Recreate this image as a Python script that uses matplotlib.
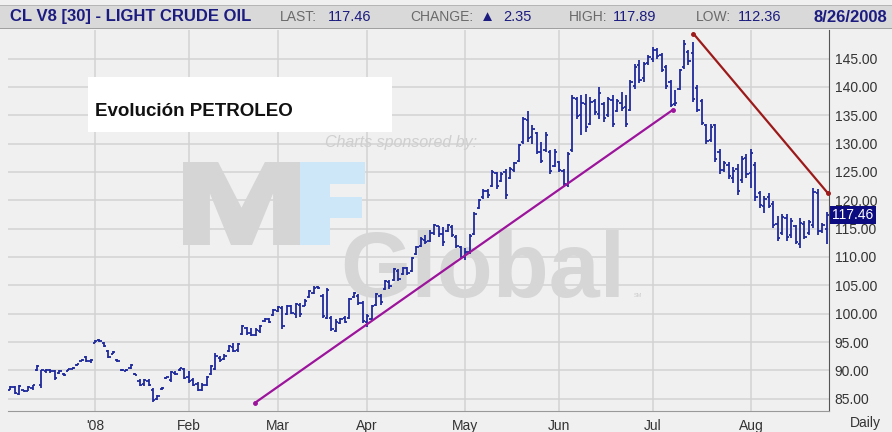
import matplotlib
matplotlib.use("Agg")
import matplotlib.pyplot as plt
import matplotlib.transforms as mtransforms
from matplotlib.patches import Polygon, Rectangle
import numpy as np
import pandas as pd

plt.rcParams['font.family'] = ['Liberation Sans', 'DejaVu Sans']

# trading days shown on the chart
start_date = "2007-12-04"
end_date = "2008-08-26"
holidays = ["2007-12-25", "2008-01-01", "2008-01-21", "2008-02-18",
            "2008-03-21", "2008-05-26", "2008-07-04"]

opens = [
    86.6, 87.0, 85.9, 86.5, 86.4, 86.8, 90.0, 87.5, 89.9, 90.0,
    89.8, 89.5, 89.4, 89.9, 90.3, 90.9, 91.7, 92.3, 91.6, 94.9,
    95.4, 94.9, 93.4, 92.9, 91.8, 90.1, 89.9, 90.4, 89.4, 88.2,
    87.6, 88.1, 86.6, 85.0, 86.7, 88.6, 88.3, 89.6, 90.0, 90.3,
    88.9, 88.3, 87.6, 86.5, 87.5, 89.4, 90.3, 92.2, 92.0, 93.4,
    94.2, 93.6, 96.4, 97.5, 96.5, 96.3, 96.9, 98.7, 99.0, 99.8,
    100.5, 101.0, 99.9, 101.3, 100.0, 101.5, 101.4, 103.0, 103.7, 104.7,
    103.2, 99.3, 99.2, 97.0, 98.4, 99.2, 99.2, 103.0, 103.2, 101.8,
    98.5, 99.0, 101.5, 103.2, 104.4, 105.6, 105.9, 107.6, 107.0, 108.0,
    107.6, 110.6, 112.0, 113.0, 112.8, 114.2, 115.4, 114.0, 114.6, 115.3,
    113.6, 111.8, 110.0, 110.9, 114.0, 118.7, 120.5, 121.6, 122.6, 124.8,
    123.4, 124.9, 124.0, 125.3, 127.0, 130.2, 134.2, 131.2, 131.8, 128.5,
    128.8, 128.5, 126.1, 126.8, 125.2, 122.7, 128.8, 137.8, 135.0, 137.0,
    133.5, 137.5, 135.3, 137.0, 135.0, 137.6, 135.8, 137.2, 136.5, 136.0,
    140.2, 143.8, 141.5, 144.2, 145.0, 146.5, 145.6, 143.5, 140.8, 137.0,
    139.6, 143.5, 146.2, 146.0, 139.8, 137.5, 133.2, 130.6, 133.2, 128.5,
    125.4, 126.3, 124.0, 125.5, 123.5, 127.5, 124.8, 126.2, 121.2, 119.0,
    120.5, 119.4, 115.8, 114.2, 116.8, 113.8, 115.5, 112.3, 115.8, 114.2,
    115.6, 121.3, 114.6, 115.0,
]
highs = [
    87.2, 87.3, 87.5, 86.6, 87.2, 87.5, 91.0, 90.1, 90.2, 90.2,
    90.1, 90.1, 89.5, 90.3, 90.6, 91.2, 92.0, 92.5, 92.0, 95.3,
    95.5, 95.0, 93.6, 93.4, 92.0, 90.3, 90.2, 91.2, 89.5, 88.4,
    88.5, 88.4, 86.9, 85.6, 87.0, 88.9, 89.9, 89.8, 90.5, 90.5,
    89.9, 88.6, 88.0, 87.7, 89.0, 91.0, 93.0, 92.5, 92.8, 94.5,
    94.8, 94.8, 98.0, 97.7, 97.4, 97.4, 98.0, 99.2, 99.3, 100.8,
    101.3, 101.3, 101.6, 101.6, 101.9, 101.8, 102.5, 104.2, 104.8, 104.8,
    103.4, 104.5, 99.5, 99.0, 99.3, 99.5, 102.8, 103.9, 103.4, 102.2,
    99.9, 101.6, 103.6, 103.5, 106.0, 105.9, 108.0, 107.9, 108.3, 108.3,
    110.0, 112.0, 113.5, 113.8, 114.7, 115.9, 115.5, 115.3, 115.9, 115.6,
    113.8, 112.0, 111.5, 114.0, 118.0, 120.3, 122.0, 121.9, 125.3, 125.0,
    125.0, 125.6, 125.9, 126.8, 130.0, 134.7, 135.7, 133.2, 132.0, 130.3,
    132.0, 128.8, 129.1, 127.0, 125.6, 128.5, 138.5, 138.2, 138.5, 138.8,
    138.2, 137.9, 140.0, 137.4, 138.2, 138.5, 137.9, 139.1, 138.5, 141.2,
    144.1, 144.7, 144.4, 145.6, 147.0, 146.8, 145.9, 143.8, 141.2, 139.4,
    143.2, 148.3, 146.5, 148.0, 140.3, 137.9, 133.5, 133.5, 133.5, 129.0,
    127.0, 126.7, 125.8, 126.4, 127.8, 128.1, 129.0, 126.7, 121.6, 120.7,
    121.3, 119.8, 117.2, 117.5, 117.5, 116.9, 115.7, 116.9, 116.3, 116.6,
    122.2, 121.9, 116.0, 117.89,
]
lows = [
    86.5, 85.8, 85.7, 86.1, 86.3, 86.6, 89.8, 86.8, 89.6, 89.6,
    88.3, 89.3, 89.0, 89.8, 90.2, 90.8, 91.6, 91.5, 91.3, 94.8,
    95.0, 94.1, 92.1, 92.8, 91.5, 89.9, 89.8, 90.2, 89.1, 87.2,
    87.3, 87.2, 84.4, 84.8, 86.6, 88.5, 88.0, 89.2, 89.9, 88.4,
    87.8, 87.2, 86.3, 86.3, 87.3, 89.2, 90.1, 91.5, 91.8, 93.3,
    93.2, 93.2, 96.2, 96.3, 96.0, 96.0, 96.5, 98.6, 98.3, 99.6,
    100.3, 97.3, 99.8, 99.9, 99.3, 99.4, 101.3, 102.8, 103.5, 104.4,
    99.3, 99.0, 97.0, 96.7, 98.2, 98.3, 99.0, 102.8, 101.6, 98.4,
    97.6, 98.7, 101.3, 101.5, 104.2, 104.3, 105.7, 105.8, 106.8, 106.8,
    107.4, 110.3, 111.8, 112.2, 112.6, 113.8, 113.5, 112.0, 114.4, 113.5,
    111.5, 109.6, 109.4, 110.6, 113.8, 118.5, 120.3, 120.4, 122.4, 122.0,
    123.2, 120.3, 123.8, 125.0, 126.8, 130.0, 130.3, 130.0, 128.2, 126.5,
    128.5, 124.7, 125.9, 125.0, 122.4, 122.4, 128.5, 134.4, 131.5, 132.0,
    133.2, 135.0, 134.4, 133.8, 134.7, 132.9, 135.5, 135.8, 132.9, 135.8,
    139.7, 140.6, 140.9, 143.8, 144.4, 145.0, 142.6, 139.7, 136.4, 136.7,
    139.4, 143.2, 143.8, 137.3, 135.5, 133.2, 129.9, 130.2, 126.7, 124.6,
    124.9, 123.7, 123.1, 121.0, 123.1, 124.0, 122.2, 119.9, 118.7, 117.8,
    118.7, 115.1, 112.8, 113.9, 112.8, 113.4, 112.2, 111.6, 113.1, 113.9,
    115.1, 113.9, 114.3, 112.36,
]
closes = [
    87.0, 86.0, 87.3, 86.3, 87.0, 87.4, 90.8, 90.0, 90.0, 89.9,
    88.7, 89.9, 89.1, 90.2, 90.5, 91.1, 91.9, 91.7, 91.8, 95.2,
    95.1, 94.3, 92.4, 93.2, 91.6, 90.0, 90.1, 91.0, 89.2, 87.5,
    88.3, 87.4, 84.8, 85.4, 86.9, 88.8, 89.7, 89.4, 90.4, 88.7,
    88.1, 87.4, 86.6, 87.5, 88.8, 90.8, 92.6, 91.8, 92.6, 94.3,
    93.5, 94.6, 97.8, 96.6, 96.2, 97.1, 97.8, 99.1, 98.6, 100.6,
    101.1, 97.8, 101.4, 100.2, 101.7, 100.0, 102.3, 104.0, 104.5, 104.5,
    99.5, 104.1, 97.3, 98.6, 99.1, 98.6, 102.5, 103.7, 101.9, 98.7,
    99.6, 101.3, 103.4, 102.0, 105.8, 104.8, 107.8, 106.2, 108.0, 107.2,
    109.8, 111.8, 113.2, 112.6, 114.3, 115.6, 114.0, 112.6, 115.7, 113.8,
    111.9, 110.0, 110.8, 113.7, 117.6, 120.1, 121.7, 121.0, 125.0, 122.5,
    124.7, 121.0, 125.6, 126.5, 129.7, 134.4, 131.0, 132.6, 128.6, 127.0,
    131.5, 125.2, 128.6, 125.3, 122.8, 128.2, 138.0, 134.9, 137.2, 133.0,
    137.4, 135.5, 139.0, 134.5, 137.8, 133.5, 137.5, 136.2, 133.4, 140.8,
    143.5, 141.2, 144.0, 145.3, 146.5, 145.4, 143.0, 140.2, 136.8, 137.2,
    142.9, 147.5, 144.5, 137.9, 136.0, 133.6, 130.5, 133.0, 127.3, 125.3,
    126.5, 124.2, 125.2, 121.6, 127.2, 124.6, 128.4, 120.5, 119.2, 120.2,
    119.0, 115.6, 113.4, 117.0, 113.5, 116.3, 112.6, 116.0, 113.6, 116.2,
    121.4, 114.5, 115.6, 117.46,
]

axis_prices = [85, 90, 95, 100, 105, 110, 115, 120, 125, 130, 135, 140, 145]

# hand-drawn trend lines (bar index, price)
purple_x = [54.9, 148.6]
purple_y = [84.3, 136.0]
red_x = [153.1, 183.3]
red_y = [149.4, 121.2]

symbol = "CL V8 [30] - LIGHT CRUDE OIL"
last_txt, change_txt, high_txt, low_txt = "117.46", "2.35", "117.89", "112.36"
date_txt = "8/26/2008"

dates = pd.bdate_range(start_date, end_date, freq="C", holidays=holidays)
assert len(dates) == len(opens) == len(highs) == len(lows) == len(closes)

navy = "#1f2a9c"
bg = "#f0f0f0"
W, H = 892, 432

fig = plt.figure(figsize=(W / 100, H / 100), dpi=100, facecolor=bg)
# pixel coordinates, origin top-left
pix = mtransforms.Affine2D().scale(1 / W, -1 / H).translate(0, 1) + fig.transFigure

ax = fig.add_axes([8 / W, 1 - 411 / H, 821 / W, 381 / H])
ax.set_facecolor(bg)

x = np.arange(len(dates))
ax.vlines(x, lows, highs, color=navy, lw=1.3, zorder=3)
ax.hlines(opens, x - 0.5, x, color=navy, lw=1.3, zorder=3)
ax.hlines(closes, x, x + 0.5, color=navy, lw=1.3, zorder=3)

ax.plot(purple_x, purple_y, color="#9b149b", lw=1.6, zorder=4,
        marker="o", ms=2.5, solid_capstyle="round")
ax.plot(red_x, red_y, color="#9c1a1a", lw=1.6, zorder=4,
        marker="o", ms=2.5, clip_on=False)

# month ticks at first trading day of each month
months = dates.to_period("M")
first = np.flatnonzero(months[1:] != months[:-1]) + 1
labels = ["'08" if dates[i].month == 1 else dates[i].strftime("%b") for i in first]
ax.set_xticks(first)
ax.set_xticklabels(labels)
ax.set_yticks(axis_prices)
ax.set_yticklabels([f"{p:.2f}" for p in axis_prices])
ax.yaxis.tick_right()
ax.set_xlim(-0.5, len(dates) - 0.5)
ax.set_ylim(82.83, 150.03)
ax.tick_params(axis="both", length=0, labelsize=10, colors="#333333")
ax.tick_params(axis="x", pad=6)
ax.tick_params(axis="y", pad=4)
ax.grid(True, color="#d2d2d2", lw=1.1)
ax.set_axisbelow(True)
for s in ("left", "top"):
    ax.spines[s].set_visible(False)
ax.spines["right"].set_color("#555555")
ax.spines["bottom"].set_color("#999999")

# sponsor watermark
m_unit = np.array([(0, 1), (0, 0), (0.3, 0), (0.5, 0.55), (0.7, 0), (1, 0), (1, 1),
                   (0.77, 1), (0.77, 0.38), (0.59, 1), (0.41, 1), (0.23, 0.38), (0.23, 1)])
f_unit = np.array([(0, 0), (1, 0), (1, 0.27), (0.46, 0.27), (0.46, 0.42), (0.95, 0.42),
                   (0.95, 0.67), (0.46, 0.67), (0.46, 1), (0, 1)])
ax.add_patch(Polygon(m_unit * [117, 83] + [183, 162], closed=True, fc="#d5d5d5",
                     ec="none", transform=pix, zorder=1))
ax.add_patch(Polygon(f_unit * [65, 83] + [300, 162], closed=True, fc="#cde7f8",
                     ec="none", transform=pix, zorder=1))
ax.text(340, 297, "Global", transform=pix, fontsize=66, fontweight="bold",
        color="#d6d6d6", ha="left", va="baseline", zorder=1)
ax.text(634, 297, "SM", transform=pix, fontsize=4, color="#cccccc", zorder=1)
ax.text(325, 143, "Charts sponsored by:", transform=pix, fontsize=11.5,
        style="italic", color="#cfcfcf", ha="left", va="center", zorder=1)

# last price tag on the axis
tag = mtransforms.blended_transform_factory(ax.transAxes, ax.transData)
ax.text(1.004, closes[-1], f"{closes[-1]:.2f}", transform=tag, fontsize=10,
        color="white", ha="left", va="center", zorder=6, clip_on=False,
        bbox=dict(boxstyle="square,pad=0.15", fc="#0c0c80", ec="none"))

# title box
fig.add_artist(Rectangle((88, 77), 304, 55, transform=pix, fc="white", ec="none", zorder=5))
fig.text(95, 112, "Evolución PETROLEO", transform=pix, fontsize=13.5, fontweight="bold",
         color="#111111", ha="left", va="center", zorder=6)

# header strip
fig.add_artist(Rectangle((0, 5), W, 23, transform=pix, fc="#d9d9d9", ec="none", zorder=1))
fig.add_artist(Rectangle((0, 4.5), W, 1.2, transform=pix, fc="#b5b5b5", ec="none", zorder=2))
fig.add_artist(Rectangle((0, 27.5), W, 1.2, transform=pix, fc="#a0a0a0", ec="none", zorder=2))
hy = 17
grey = "#6a6a6a"
fig.text(10, hy, symbol, transform=pix, fontsize=12, fontweight="bold", color="#1c1c80", va="center")
fig.text(280, hy, "LAST:", transform=pix, fontsize=10, color=grey, va="center")
fig.text(328, hy, last_txt, transform=pix, fontsize=10.5, color="#1c1c80", va="center")
fig.text(410, hy, "CHANGE:", transform=pix, fontsize=10, color=grey, va="center")
fig.text(480, hy, "▲", transform=pix, fontsize=11, color="#1c1c80", va="center")
fig.text(503, hy, change_txt, transform=pix, fontsize=10.5, color="#1c1c80", va="center")
fig.text(569, hy, "HIGH:", transform=pix, fontsize=10, color=grey, va="center")
fig.text(613, hy, high_txt, transform=pix, fontsize=10.5, color="#1c1c80", va="center")
fig.text(696, hy, "LOW:", transform=pix, fontsize=10, color=grey, va="center")
fig.text(738, hy, low_txt, transform=pix, fontsize=10.5, color="#1c1c80", va="center")
fig.text(813, hy, date_txt, transform=pix, fontsize=12, fontweight="bold", color="#1c1c80", va="center")

fig.text(865, 423, "Daily", transform=pix, fontsize=10, color="#333333", ha="center", va="center")

fig.savefig("out.png", dpi=100, facecolor=fig.get_facecolor())
